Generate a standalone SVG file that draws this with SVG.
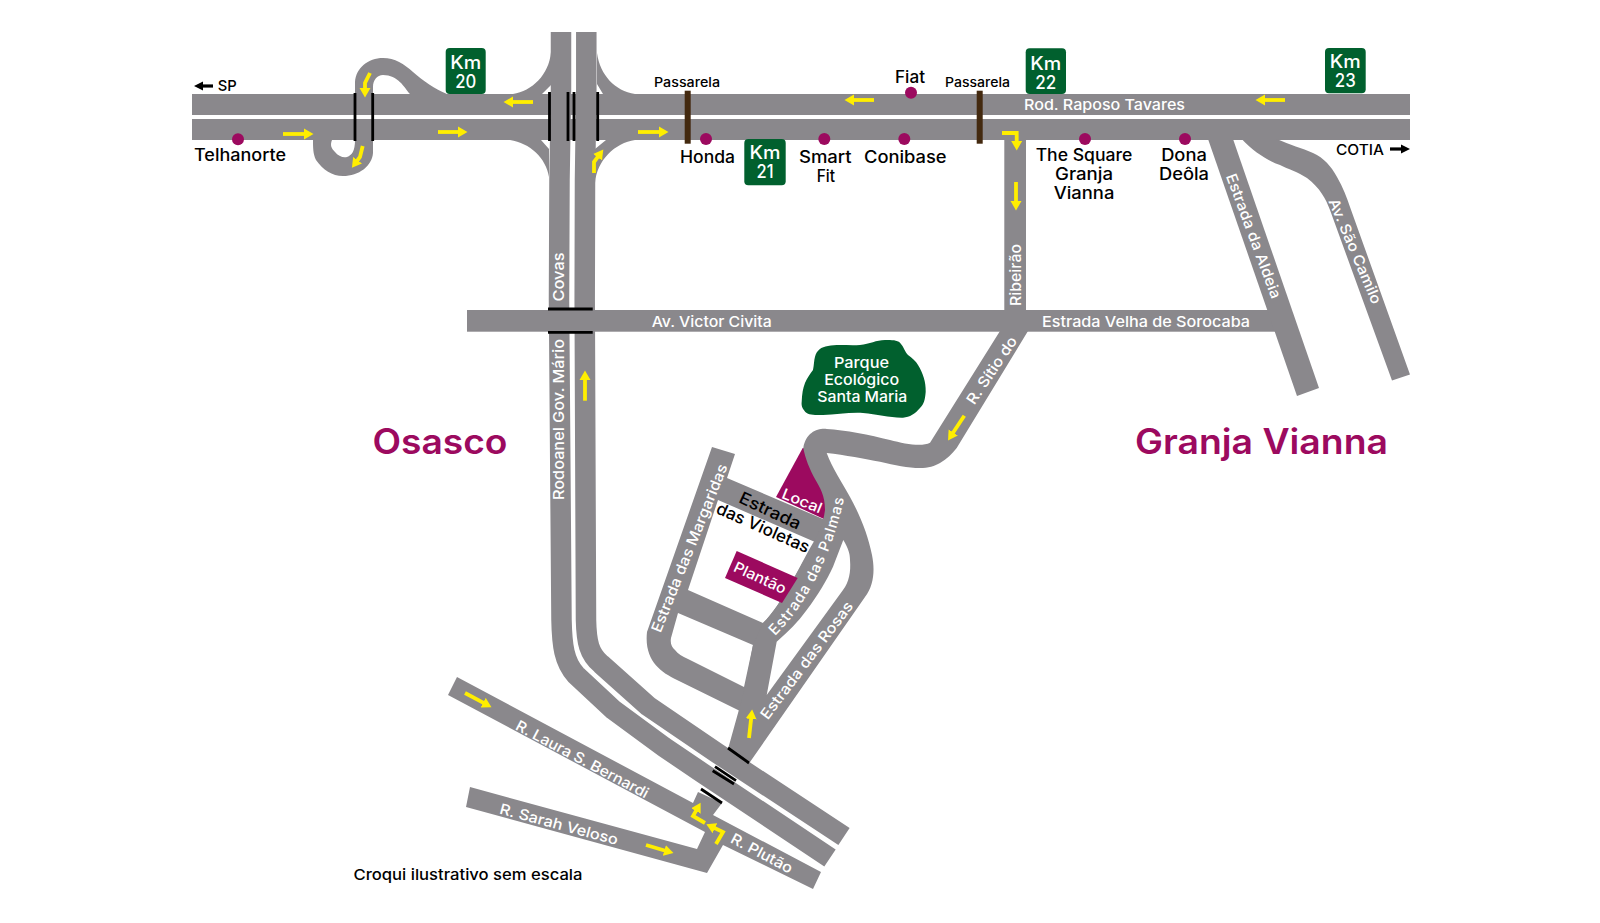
<svg xmlns="http://www.w3.org/2000/svg" width="1600" height="923" viewBox="0 0 1600 923">
<style>
text{font-family:Inter,"Liberation Sans",sans-serif;font-weight:500}
.r{fill:#8a888c}
.s{fill:none;stroke:#8a888c;stroke-width:20.5;stroke-linejoin:round}
.b{fill:none;stroke:#000;stroke-width:2.8}
.p{fill:#43290f}
.a{fill:none;stroke:#ffee00;stroke-width:3.8;marker-end:url(#ya)}
.k{fill:none;stroke:#000;stroke-width:3.2;marker-end:url(#ka)}
.d{fill:#9c0a5f}
.g{fill:#01602e}
.w{fill:#fff;font-size:14.8px;text-anchor:middle}
.n{fill:#000;font-size:16.8px;text-anchor:middle}
.m{fill:#000;font-size:13px;text-anchor:middle}
.km{fill:#fff;font-size:18px;text-anchor:middle}
.c{fill:#9c0a5f;font-size:35px;font-weight:600;text-anchor:middle}
</style>
<defs>
<marker id="ya" markerUnits="userSpaceOnUse" markerWidth="10" markerHeight="12" refX="1" refY="6" orient="auto"><path d="M0,0.5 L9.5,6 L0,11.5Z" fill="#ffee00"/></marker>
<marker id="ka" markerUnits="userSpaceOnUse" markerWidth="10" markerHeight="10" refX="1" refY="5" orient="auto"><path d="M0,0.5 L9,5 L0,9.5Z" fill="#000"/></marker>
<path id="palmasPath" d="M775,636 Q826,585 846,490"/>
</defs>
<g id="roads">
<rect class="r" x="192" y="94" width="1218" height="21"/>
<rect class="r" x="192" y="119" width="1218" height="21"/>
<path class="r" d="M355,94 V82 C356,68 368,58 383,58 C395,58 404,64 413,72 C423,81 435,89 447,94 H410 C404,87 398,75 383,75 C377,75 373,80 373,87 V94Z"/>
<path class="r" d="M373,140 V153 C372,166 359,176 343,176 C332,176 323,170 316,160 C313,154 313,147 313,140 H332 C330,145 331,148 335,152 C338,156 343,158 347,157 C352,155 355,151 355,140Z"/>
<path class="r" d="M551,52 C549,75 532,91 513,94 H542 L551,85Z"/>
<path class="r" d="M597,53 C600,75 615,91 635,94 H603 L597,84Z"/>
<path class="r" d="M510,140 C530,143 546,158 549,177 V149 L541,140Z"/>
<path class="r" d="M635,140 C615,143 597,160 595,183 V149 L606,140Z"/>
<path class="s" d="M561,32 V90 L559.5,180 L559,300 L561.5,620 C562,645 564,662 576,675 L613,709.5 L664,747 L702,772.7 L830,858"/>
<path class="s" d="M586.3,32 V90 L585,180 L584.7,300 L586,620 C586.5,642 589,654 601,664 L648,706 L717,753 L844,836.5"/>
<rect class="r" x="1004.3" y="139" width="21.7" height="175"/>
<rect class="r" x="467" y="310" width="815" height="21.7"/>
<path class="r" d="M1208,139 H1233 L1319,388 L1297,396Z"/>
<path class="r" d="M1241.7,139 H1276.7 C1290,145 1302,148 1313,153 C1324,158 1331,166 1337,177 C1343,187 1347,198 1350,207 L1410,374.5 L1392,380.6 L1330,210 C1326,199 1320,188 1307,178 C1298,172 1288,169 1280,165 C1268,161 1254,152 1241.7,139Z"/>
<path class="r" fill-rule="evenodd" d="M712,447 L735,454 L727,478 L830,522 L775,645 L748,720 L740,711 L677,680 C660,672 644,660 647,632Z M718,500 L815,542 C800,565 782,605 763,623 L688,590Z M678,613 L671,638 C670,644 672,647 675,650 C678,654 682,656 688,659 L744,687 L753,645Z"/>
</g>
<g id="local"><path class="d" d="M802.7,448 L776,497 L824,519 L830,505 L815,450Z"/>
<text class="w" transform="translate(802,501) rotate(22)" y="5" textLength="42" lengthAdjust="spacingAndGlyphs">Local</text></g>
<g id="roads-upper">
<path class="r" d="M1000,331 L930,442.7 C922,447 905,444 890,440 C870,435 845,430 826.7,429 C818,428 806,432 803.3,448 C805,458 810,470 815,479 C820,488 825,495 825,510 C823,525 818,535 813,543 C800,565 782,605 763,623 L753,645 L745,688 L728,749 L750,762 L865,597 C874,585 875,570 872,555 C868,535 860,515 850,497 C842,482 832,468 826.7,453 C845,455 865,459 880,461.7 C895,465 908,468 920,468 C928,468 935,466 940,463 C947,459 952,454 956.7,448 L1028,331Z"/>
<path fill="#fff" d="M843.3,540 C848,548 850,553 850,560 C851,572 849,582 843,590 L766.7,695 L776.7,641.7 C788,632 798,622 806.7,610 C818,595 827,580 833,566.7Z"/>
<path class="r" d="M457,677 L693,803 L698,792 L722,803 L713,815 L821,872 L813,889 L723,845 L707,873 L466,807 L470,787 L697,849 L705,832 L448,695Z"/>
</g>
<g id="bars">
<path class="b" d="M355,93V141M372.7,93V141M549.5,92V141M568,92V141M574,92V141M597.7,92V141M548,309H592.7M548,332.3H592.7M728,748L749,763M712.7,770.7L734,784M715,766.7L736,780.7M701,789L722,803"/>
<rect class="p" x="684.7" y="90.7" width="6" height="53"/>
<rect class="p" x="976.7" y="90.7" width="6" height="53"/>
</g>
<g id="arrows">
<path class="a" d="M283,134H305"/>
<path class="a" d="M438,132H459"/>
<path class="a" d="M533,102H512"/>
<path class="a" d="M638,132H660"/>
<path class="a" d="M370,73L365,83V89"/>
<path class="a" d="M362.7,146L360,157L357,161"/>
<path class="a" d="M594,173V162L598.2,156.4"/>
<path class="a" d="M1285,100H1264"/>
<path class="a" d="M874,100H853"/>
<path class="a" d="M1002,133H1016.7V142"/>
<path class="a" d="M1016,182V202"/>
<path class="a" d="M585,400.7V379"/>
<path class="a" d="M964.3,415.7L952.7,433.3"/>
<path class="a" d="M465,693L484,703.2"/>
<path class="a" d="M646,845L665.3,850.7"/>
<path class="a" d="M749,738L751.2,718"/>
<path class="a" d="M705,823L693,816L696.4,810.1"/>
<path class="a" d="M716,844L723,832L714,827.8"/>
<path class="k" d="M213,86H202"/>
<path class="k" d="M1390,149H1402"/>
</g>
<g id="road-labels">
<text class="w" x="1104.5" y="110" textLength="161" lengthAdjust="spacingAndGlyphs">Rod. Raposo Tavares</text>
<text class="w" x="1146" y="327" textLength="208" lengthAdjust="spacingAndGlyphs">Estrada Velha de Sorocaba</text>
<text class="w" x="711.7" y="326.7" textLength="120" lengthAdjust="spacingAndGlyphs">Av. Victor Civita</text>
<text class="w" transform="translate(1015,275) rotate(-90)" y="5.5" textLength="62" lengthAdjust="spacingAndGlyphs">Ribeirão</text>
<text class="w" transform="translate(558,277) rotate(-90)" y="5.5" textLength="49" lengthAdjust="spacingAndGlyphs">Covas</text>
<text class="w" transform="translate(558,419.5) rotate(-90)" y="5.5" textLength="161" lengthAdjust="spacingAndGlyphs">Rodoanel Gov. Mário</text>
<text class="w" transform="translate(1254,236) rotate(69.6)" y="5.5" textLength="132" lengthAdjust="spacingAndGlyphs">Estrada da Aldeia</text>
<text class="w" transform="translate(1355.5,251) rotate(67)" y="5.5" textLength="113" lengthAdjust="spacingAndGlyphs">Av. São Camilo</text>
<text class="w" transform="translate(991.5,370) rotate(-56)" y="5.5" textLength="78" lengthAdjust="spacingAndGlyphs">R. Sítio do</text>
<text class="w" transform="translate(689,548) rotate(-68)" y="5.5" textLength="180" lengthAdjust="spacingAndGlyphs">Estrada das Margaridas</text>
<text class="w" style="text-anchor:start;letter-spacing:1.05px"><textPath href="#palmasPath">Estrada das Palmas</textPath></text>
<text class="w" transform="translate(806.5,660) rotate(-53)" y="5.5" textLength="143" lengthAdjust="spacingAndGlyphs">Estrada das Rosas</text>
<text class="w" transform="translate(582.5,759) rotate(28)" y="5.5" textLength="148" lengthAdjust="spacingAndGlyphs">R. Laura S. Bernardi</text>
<text class="w" transform="translate(559,824) rotate(15)" y="5.5" textLength="122" lengthAdjust="spacingAndGlyphs">R. Sarah Veloso</text>
<text class="w" transform="translate(762,853) rotate(28)" y="5.5" textLength="68" lengthAdjust="spacingAndGlyphs">R. Plutão</text>
<text class="n" transform="translate(770,511) rotate(25)" y="5.5" textLength="66" lengthAdjust="spacingAndGlyphs">Estrada</text>
<text class="n" transform="translate(763,528) rotate(24)" y="5.5" textLength="100" lengthAdjust="spacingAndGlyphs">das Violetas</text>
</g>
<g id="plantao"><path class="d" d="M736.7,551 L797.7,578 L782,603 L725,578Z"/>
<text class="w" transform="translate(760,578) rotate(25)" y="5" textLength="56" lengthAdjust="spacingAndGlyphs">Plantão</text></g>
<g id="parque"><path class="g" d="M815,356.7 C817,350 821,347 828,346 C838,344 850,346 860,345 C870,344 876,340 885,340 C892,340 897,340 900,342.7 C904,347 905,352 908,355 C912,358 916,361 918,365 C923,373 926,382 925.7,391.7 C925,400 924,404 920,408 C915,414 910,417 903,417.7 C890,418 877,414 863,413 C850,412 836,415 823,415 C815,415 810,415 806.7,413 C803,410 801,406 801.7,401.7 C802,394 803,388 805,383 C807,378 810,374 813,370 C814,365 814,360 815,356.7Z"/>
<text class="w" x="861.5" y="367.7" textLength="55" lengthAdjust="spacingAndGlyphs">Parque</text>
<text class="w" x="861.7" y="385" textLength="75" lengthAdjust="spacingAndGlyphs">Ecológico</text>
<text class="w" x="862.3" y="401.7" textLength="90" lengthAdjust="spacingAndGlyphs">Santa Maria</text></g>
<g id="km20"><rect class="g" x="445.7" y="48" width="40" height="46" rx="4"/><text class="km" x="465.7" y="69" textLength="31" lengthAdjust="spacingAndGlyphs">Km</text><text class="km" x="465.7" y="88" textLength="21" lengthAdjust="spacingAndGlyphs">20</text></g>
<g id="km21"><rect class="g" x="744.3" y="139" width="41.4" height="46.3" rx="4"/><text class="km" x="765" y="159" textLength="31" lengthAdjust="spacingAndGlyphs">Km</text><text class="km" x="765" y="178" textLength="17" lengthAdjust="spacingAndGlyphs">21</text></g>
<g id="km22"><rect class="g" x="1025.7" y="48.3" width="40.3" height="45.7" rx="4"/><text class="km" x="1045.7" y="70" textLength="31" lengthAdjust="spacingAndGlyphs">Km</text><text class="km" x="1045.7" y="89" textLength="21" lengthAdjust="spacingAndGlyphs">22</text></g>
<g id="km23"><rect class="g" x="1325" y="48" width="40.7" height="45.3" rx="4"/><text class="km" x="1345.3" y="67.7" textLength="31" lengthAdjust="spacingAndGlyphs">Km</text><text class="km" x="1345.3" y="86.7" textLength="21" lengthAdjust="spacingAndGlyphs">23</text></g>
<g id="places">
<circle class="d" cx="238" cy="139.3" r="6"/>
<circle class="d" cx="706" cy="139" r="6"/>
<circle class="d" cx="824.3" cy="139" r="6"/>
<circle class="d" cx="904.3" cy="139" r="6"/>
<circle class="d" cx="911" cy="92.7" r="6"/>
<circle class="d" cx="1085" cy="139" r="6"/>
<circle class="d" cx="1185" cy="139" r="6"/>
<text class="n" x="240" y="160.7" textLength="92" lengthAdjust="spacingAndGlyphs">Telhanorte</text>
<text class="n" x="707.5" y="163.3" textLength="55" lengthAdjust="spacingAndGlyphs">Honda</text>
<text class="n" x="825.3" y="163" textLength="52.7" lengthAdjust="spacingAndGlyphs">Smart</text>
<text class="n" x="825.8" y="182" textLength="18.3" lengthAdjust="spacingAndGlyphs">Fit</text>
<text class="n" x="905.3" y="163" textLength="82.7" lengthAdjust="spacingAndGlyphs">Conibase</text>
<text class="n" x="910" y="83" textLength="30" lengthAdjust="spacingAndGlyphs">Fiat</text>
<text class="n" x="1084" y="161" textLength="96.7" lengthAdjust="spacingAndGlyphs">The Square</text>
<text class="n" x="1084" y="180" textLength="58" lengthAdjust="spacingAndGlyphs">Granja</text>
<text class="n" x="1084" y="199" textLength="60.7" lengthAdjust="spacingAndGlyphs">Vianna</text>
<text class="n" x="1184" y="161" textLength="45.7" lengthAdjust="spacingAndGlyphs">Dona</text>
<text class="n" x="1184" y="180" textLength="50" lengthAdjust="spacingAndGlyphs">Deôla</text>
<text class="m" x="687" y="86.7" textLength="66" lengthAdjust="spacingAndGlyphs">Passarela</text>
<text class="m" x="977.5" y="86.7" textLength="65" lengthAdjust="spacingAndGlyphs">Passarela</text>
<text class="m" x="227.2" y="90.7" style="font-size:15px" textLength="19" lengthAdjust="spacingAndGlyphs">SP</text>
<text class="m" x="1360" y="155" style="font-size:14px" textLength="48" lengthAdjust="spacingAndGlyphs">COTIA</text>
<text class="c" x="440" y="454" textLength="135" lengthAdjust="spacingAndGlyphs">Osasco</text>
<text class="c" x="1261.5" y="454" textLength="253" lengthAdjust="spacingAndGlyphs">Granja Vianna</text>
<text class="m" x="468" y="880" style="font-size:15px" textLength="229" lengthAdjust="spacingAndGlyphs">Croqui ilustrativo sem escala</text>
</g>
</svg>
